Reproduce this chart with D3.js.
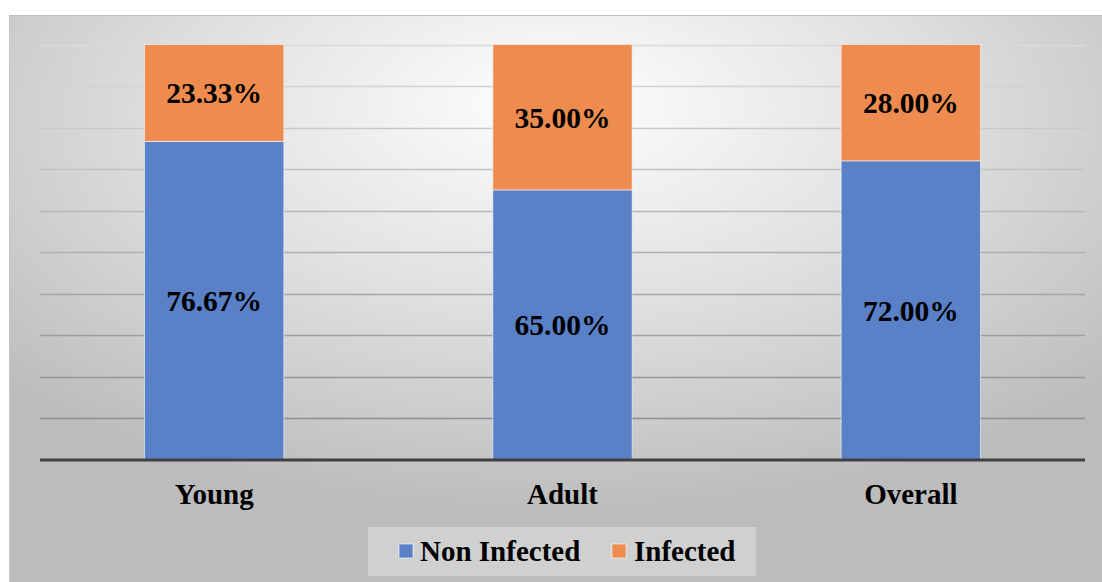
<!DOCTYPE html>
<html>
<head>
<meta charset="utf-8">
<script src="https://cdn.jsdelivr.net/npm/d3@7"></script>
<style>
  html, body { margin: 0; padding: 0; background: #fff; }
  svg { display: block; }
</style>
</head>
<body>
<svg id="chart" width="1102" height="582"></svg>
<script>
// Infection share by age group (percent)
const categories = ["Young", "Adult", "Overall"];
const nonInfected = [76.67, 65.00, 72.00];
const infected = [23.33, 35.00, 28.00];
const seriesNames = ["Non Infected", "Infected"];
const gridTicks = [0, 10, 20, 30, 40, 50, 60, 70, 80, 90, 100];

const colors = { "Non Infected": "#5a80c8", "Infected": "#ed8c4e" };

const svg = d3.select("#chart");
const W = 1102, H = 582;

// Chart background panel with soft radial shading
const defs = svg.append("defs");
const rg = defs.append("radialGradient")
  .attr("id", "bg").attr("cx", "50%").attr("cy", "20%").attr("r", "68%")
  .attr("fx", "50%").attr("fy", "15%");
rg.append("stop").attr("offset", "0%").attr("stop-color", "#ffffff");
rg.append("stop").attr("offset", "50%").attr("stop-color", "#e0e0e0");
rg.append("stop").attr("offset", "100%").attr("stop-color", "#bcbcbc");

svg.append("rect").attr("x", 9).attr("y", 15).attr("width", W - 9).attr("height", H - 15)
  .attr("fill", "url(#bg)");
svg.append("line").attr("x1", 9).attr("x2", W).attr("y1", 15.5).attr("y2", 15.5)
  .attr("stroke", "#bfbfbf").attr("stroke-width", 1);
svg.append("line").attr("x1", 9.5).attr("x2", 9.5).attr("y1", 15).attr("y2", H)
  .attr("stroke", "#c4c4c4").attr("stroke-width", 1);

const plot = { left: 40, right: 1085, top: 44.5, bottom: 460 };

const x = d3.scaleBand().domain(categories)
  .range([plot.left, plot.right]).paddingInner(0.6).paddingOuter(0.3);
const y = d3.scaleLinear().domain([0, 100]).range([plot.bottom, plot.top]);

// Horizontal gridlines, lighter toward the top
const gridColor = d3.scaleLinear().domain([100, 0]).range(["#dadada", "#858585"]);
svg.append("g").selectAll("line").data(gridTicks.filter(t => t > 0)).join("line")
  .attr("x1", plot.left).attr("x2", plot.right)
  .attr("y1", d => Math.round(y(d)) + 0.5).attr("y2", d => Math.round(y(d)) + 0.5)
  .attr("stroke", d => gridColor(d)).attr("stroke-width", 1.3);

// Stacked bars
const rows = categories.map((c, i) => ({ cat: c, "Non Infected": nonInfected[i], "Infected": infected[i] }));
const stack = d3.stack().keys(seriesNames)(rows);

const layers = svg.append("g").selectAll("g").data(stack).join("g")
  .attr("fill", d => colors[d.key]);
layers.selectAll("rect").data(d => d).join("rect")
  .attr("x", d => x(d.data.cat))
  .attr("width", x.bandwidth())
  .attr("y", d => y(d[1]))
  .attr("height", d => y(d[0]) - y(d[1]))
  .attr("stroke", "rgba(255,255,255,0.55)").attr("stroke-width", 1);

// Value labels centred in each segment
const fontFam = "'Liberation Serif', 'Times New Roman', serif";
stack.forEach(layer => {
  svg.append("g").selectAll("text").data(layer).join("text")
    .attr("x", d => x(d.data.cat) + x.bandwidth() / 2)
    .attr("y", d => (y(d[0]) + y(d[1])) / 2)
    .attr("dy", "0.35em")
    .attr("text-anchor", "middle")
    .attr("font-family", fontFam).attr("font-weight", "bold").attr("font-size", 29.5)
    .attr("fill", "#000")
    .text(d => (d[1] - d[0]).toFixed(2) + "%");
});

// Category axis
const xAxis = svg.append("g").attr("transform", `translate(0,${plot.bottom})`)
  .call(d3.axisBottom(x).tickSize(0).tickPadding(0));
xAxis.select(".domain").remove();
svg.append("line").attr("x1", plot.left).attr("x2", plot.right)
  .attr("y1", plot.bottom).attr("y2", plot.bottom)
  .attr("stroke", "#404040").attr("stroke-width", 3);
xAxis.selectAll("text")
  .attr("y", 44)
  .attr("dy", 0)
  .attr("font-family", fontFam).attr("font-weight", "bold").attr("font-size", 29)
  .attr("fill", "#000");

// Legend
const legend = svg.append("g");
legend.append("rect").attr("x", 368).attr("y", 527).attr("width", 388).attr("height", 49)
  .attr("fill", "#ffffff").attr("fill-opacity", 0.3);
const legendItems = [
  { name: seriesNames[0], sx: 399, tx: 420 },
  { name: seriesNames[1], sx: 612, tx: 634 }
];
legendItems.forEach(it => {
  legend.append("rect").attr("x", it.sx).attr("y", 544).attr("width", 14).attr("height", 14)
    .attr("fill", colors[it.name]).attr("stroke", "rgba(255,255,255,0.6)").attr("stroke-width", 1);
  legend.append("text").attr("x", it.tx).attr("y", 561)
    .attr("font-family", fontFam).attr("font-weight", "bold").attr("font-size", 29)
    .attr("fill", "#000").text(it.name);
});
</script>
</body>
</html>
